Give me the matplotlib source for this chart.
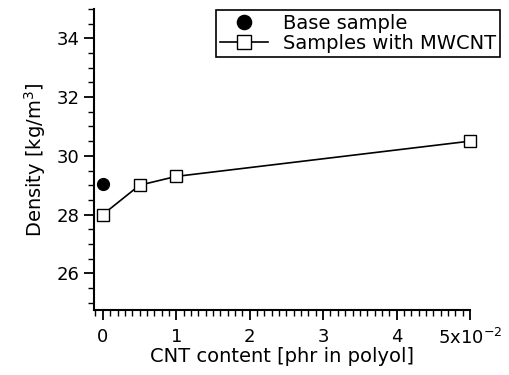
import numpy as np
import matplotlib
matplotlib.use('Agg')
from matplotlib import pyplot as plt
from matplotlib.ticker import MultipleLocator, FixedLocator

# data (CNT content in units of 1e-2 phr)
base_x = [0.0]
base_y = [29.05]
cnt_x = [0.0, 0.5, 1.0, 5.0]
cnt_y = [28.0, 29.0, 29.3, 30.5]
xtick_vals = [0, 1, 2, 3, 4, 5]
xtick_labels = ['0', '1', '2', '3', '4', '5x10$^{-2}$']
ytick_vals = [26, 28, 30, 32, 34]

plt.rcParams['font.family'] = ['DejaVu Sans']
plt.rcParams['mathtext.fontset'] = 'dejavusans'

fig = plt.figure(figsize=(5.09, 3.75), dpi=100)
ax = fig.add_axes([0.1847, 0.1733, 0.7387, 0.8027])

ax.plot(base_x, base_y, 'o', color='black', markersize=8.5, label='Base sample', clip_on=False, zorder=4)
ax.plot(cnt_x, cnt_y, '-s', color='black', markerfacecolor='white', markeredgecolor='black',
        markersize=8.5, markeredgewidth=1.0, linewidth=1.2, label='Samples with MWCNT', clip_on=False, zorder=3)

ax.set_xlim(-0.12, 5.0)
ax.set_ylim(24.75, 35.0)
ax.xaxis.set_major_locator(FixedLocator(xtick_vals))
ax.set_xticklabels(xtick_labels)
ax.xaxis.set_minor_locator(MultipleLocator(0.1))
ax.yaxis.set_major_locator(FixedLocator(ytick_vals))
ax.yaxis.set_minor_locator(MultipleLocator(0.5))

for s in ['top', 'right']:
    ax.spines[s].set_visible(False)
for s in ['left', 'bottom']:
    ax.spines[s].set_linewidth(1.5)

ax.tick_params(axis='both', which='major', direction='out', length=7, width=1.3, labelsize=13, colors='black')
ax.tick_params(axis='both', which='minor', direction='out', length=4, width=1.0)
ax.tick_params(axis='x', which='major', pad=6)

ax.set_xlabel('CNT content [phr in polyol]', fontsize=14, labelpad=-1)
ax.set_ylabel('Density [kg/m$^3$]', fontsize=14, labelpad=6)

leg = ax.legend(loc='upper right', bbox_to_anchor=(0.982, 0.973), bbox_transform=fig.transFigure,
                fontsize=14, frameon=True, fancybox=False, edgecolor='black', framealpha=1,
                markerscale=1.2, handlelength=2.5, handletextpad=0.75, borderpad=0.2,
                labelspacing=0.05, borderaxespad=0)
leg.get_frame().set_linewidth(1.2)

fig.savefig('out.png', dpi=100)
